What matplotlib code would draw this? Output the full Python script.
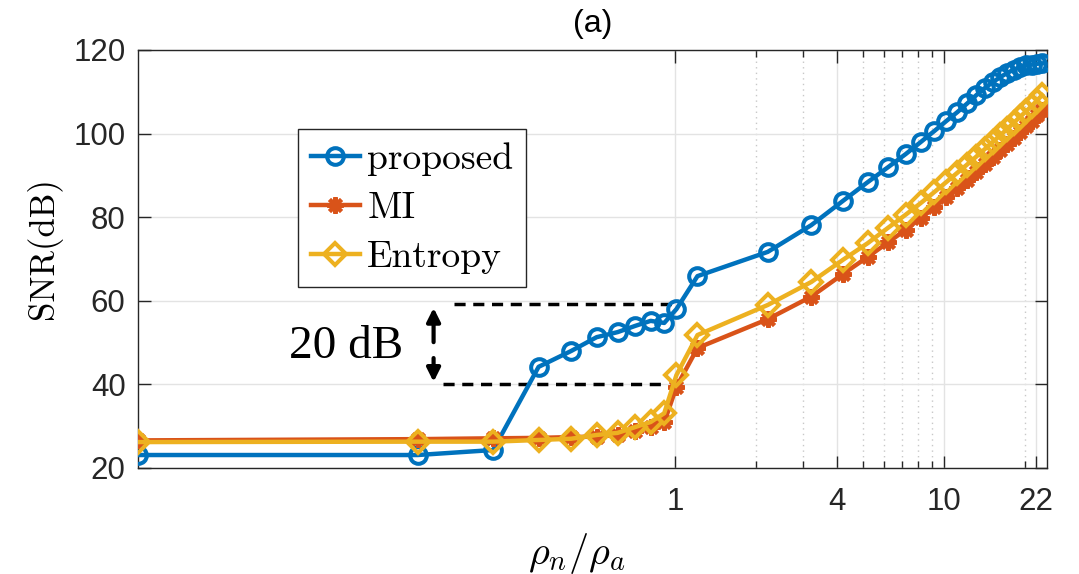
import matplotlib
matplotlib.use("Agg")
import matplotlib.pyplot as plt
from matplotlib.ticker import FixedLocator, NullFormatter, NullLocator

plt.rcParams.update({
    "mathtext.fontset": "cm",
    "axes.linewidth": 1.0,
})

RHO = [0.01, 0.11, 0.21, 0.31, 0.41, 0.51, 0.61, 0.71, 0.81, 0.91, 1.01,
       1.21, 2.21, 3.21, 4.21, 5.21, 6.21, 7.21, 8.21, 9.21, 10.21, 11.21,
       12.21, 13.21, 14.21, 15.21, 16.21, 17.21, 18.21, 19.21, 20.21, 21.21,
       22.21, 23.21]

SNR_PROPOSED = [23.1, 23.1, 24.3, 44.2, 48.0, 51.3, 52.5, 54.0, 55.2, 54.7, 58.0,
                65.9, 71.7, 78.1, 83.9, 88.4, 92.0, 95.1, 98.0, 100.6, 103.0, 105.1,
                107.2, 109.2, 110.9, 112.3, 113.5, 114.5, 115.3, 115.9, 116.3, 116.5,
                116.7, 116.8]

SNR_MI = [26.6, 26.9, 27.1, 27.2, 27.4, 27.5, 27.9, 28.8, 29.8, 30.9, 39.4,
          48.7, 55.6, 61.0, 66.4, 70.5, 74.0, 77.0, 79.8, 82.4, 84.8, 87.0,
          89.0, 90.9, 92.7, 94.4, 96.0, 97.5, 99.0, 100.4, 101.8, 103.1,
          104.4, 105.7]

SNR_ENTROPY = [26.2, 26.3, 26.3, 26.7, 27.0, 27.9, 28.4, 29.8, 31.0, 33.1, 42.2,
               51.8, 59.0, 64.5, 69.8, 73.8, 77.5, 80.6, 83.4, 86.0, 88.4, 90.6,
               92.6, 94.5, 96.3, 98.0, 99.6, 101.1, 102.6, 104.0, 105.3, 106.6,
               107.9, 109.2]

LABELS = ["proposed", "MI", "Entropy"]
COLORS = ["#0072BD", "#D95319", "#EDB120"]
MARKERS = ["o", (8, 2, 0), "D"]

X_TICKS = [1, 4, 10, 22]
X_MINOR = [2, 3, 5, 6, 7, 8, 9, 20]
Y_TICKS = [20, 40, 60, 80, 100, 120]

TICK_COLOR = "#262626"


def main():
    fig = plt.figure(figsize=(10.79, 5.74), dpi=100)
    ax = fig.add_axes([0.1279, 0.1847, 0.8424, 0.7282])

    series = [SNR_PROPOSED, SNR_MI, SNR_ENTROPY]
    sizes = [12, 12, 11]
    for vals, lab, col, mk, ms in zip(series, LABELS, COLORS, MARKERS, sizes):
        ax.plot(RHO, vals, color=col, lw=3.2, marker=mk, ms=ms,
                mfc="none", mec=col, mew=2.9, label=lab, zorder=3)

    ax.set_xscale("log")
    ax.set_xlim(0.01, 24.2)
    ax.set_ylim(20, 120)

    ax.xaxis.set_major_locator(FixedLocator(X_TICKS))
    ax.set_xticklabels([str(t) for t in X_TICKS])
    ax.xaxis.set_minor_locator(FixedLocator(X_MINOR))
    ax.xaxis.set_minor_formatter(NullFormatter())
    ax.set_yticks(Y_TICKS)
    ax.yaxis.set_minor_locator(NullLocator())

    for lab in ax.get_xticklabels() + ax.get_yticklabels():
        lab.set_fontfamily("Liberation Sans")
        lab.set_fontsize(22.5)

    ax.tick_params(which="both", direction="in", top=True, right=True,
                   colors=TICK_COLOR, width=1.0)
    ax.tick_params(which="major", length=9)
    ax.tick_params(which="minor", length=5)
    ax.tick_params(axis="x", which="major", pad=14)
    ax.tick_params(axis="y", which="major", pad=9)
    for sp in ax.spines.values():
        sp.set_color(TICK_COLOR)

    ax.grid(True, which="major", color="#e3e3e3", lw=1.0, zorder=0)
    ax.grid(True, which="minor", axis="x", color="#c8c8c8", lw=1.0,
            linestyle=(0, (1, 3)), zorder=0)
    ax.set_axisbelow(True)

    ax.set_ylabel("SNR(dB)", family="cmr10", fontsize=25)
    ax.yaxis.set_label_coords(-0.084, 0.526)
    ax.set_xlabel(r"$\rho_n/\rho_a$", fontsize=29)
    ax.xaxis.set_label_coords(0.483, -0.15)
    ax.xaxis.label.set_verticalalignment("top")
    ax.set_title("(a)", family="Liberation Sans", fontsize=23, pad=13)

    # 20 dB gap marker
    ax.plot([0.15, 1.0], [59.3, 59.3], color="black", lw=2.5,
            dashes=(3.2, 2.2), zorder=2)
    ax.plot([0.137, 0.93], [40.0, 40.0], color="black", lw=2.5,
            dashes=(3.2, 2.2), zorder=2)
    arrow = dict(arrowstyle="-|>,head_length=0.8,head_width=0.4",
                 color="black", lw=3.0, shrinkA=0, shrinkB=0)
    ax.annotate("", xy=(0.126, 58.3), xytext=(0.126, 50.1), arrowprops=arrow)
    ax.annotate("", xy=(0.126, 40.6), xytext=(0.126, 46.3), arrowprops=arrow)
    ax.text(0.0597, 48.9, "20 dB", family="Liberation Serif", fontsize=34,
            ha="center", va="center")

    leg = ax.legend(loc="upper left", bbox_to_anchor=(0.276, 0.775),
                    bbox_transform=fig.transFigure, borderaxespad=0,
                    prop=dict(family="cmr10", size=27), fancybox=False,
                    framealpha=1, edgecolor="#262626", handlelength=1.3,
                    handletextpad=0.2, labelspacing=0.42, borderpad=0.35)
    leg.get_frame().set_linewidth(1.0)

    fig.savefig("out.png", dpi=100)
    plt.close(fig)


if __name__ == "__main__":
    main()
